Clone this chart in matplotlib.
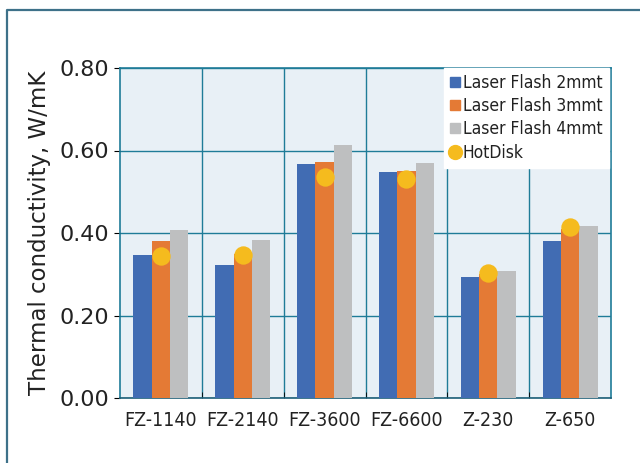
import numpy as np
import matplotlib
matplotlib.use('Agg')
import matplotlib.pyplot as plt
from matplotlib.lines import Line2D

materials = ['FZ-1140', 'FZ-2140', 'FZ-3600', 'FZ-6600', 'Z-230', 'Z-650']
lf_2mm = [0.347, 0.322, 0.568, 0.549, 0.293, 0.381]
lf_3mm = [0.380, 0.350, 0.571, 0.551, 0.300, 0.410]
lf_4mm = [0.408, 0.384, 0.613, 0.569, 0.309, 0.418]
hotdisk = [0.345, 0.347, 0.536, 0.531, 0.304, 0.414]
yticks = [0.0, 0.2, 0.4, 0.6, 0.8]

c_blue = '#416cb3'
c_orange = '#e47a35'
c_gray = '#bebfc0'
c_yellow = '#f5bb1e'
c_grid = '#1f7c98'
c_frame = '#3e7189'

plt.rcParams['font.family'] = ['DejaVu Sans']

fig = plt.figure(figsize=(6.4, 4.63), dpi=100)
ax = fig.add_axes([120/640, 1-398/463, 491/640, 330/463])
ax.set_facecolor('#e8f0f6')

x = np.arange(len(materials))
w = 0.224
ax.bar(x - w, lf_2mm, w, color=c_blue, zorder=3)
ax.bar(x, lf_3mm, w, color=c_orange, zorder=3)
ax.bar(x + w, lf_4mm, w, color=c_gray, zorder=3)
ax.scatter(x, hotdisk, s=175, color=c_yellow, zorder=4, linewidths=0)

ax.set_xlim(-0.5, len(materials) - 0.5)
ax.set_ylim(0, 0.8)
ax.set_yticks(yticks)
ax.set_yticklabels(['%.2f' % v for v in yticks], fontsize=16)
ax.set_xticks(x)
ax.set_xticklabels(materials, fontsize=14, fontstretch='condensed')
ax.set_xticks(np.arange(0.5, len(materials) - 0.5, 1), minor=True)
ax.tick_params(axis='x', which='major', length=0, pad=9, colors='#222222')
ax.tick_params(axis='x', which='minor', length=4, color='black', direction='in')
ax.tick_params(axis='y', length=4, color='black', colors='#222222', pad=4)
ax.grid(axis='y', which='major', color=c_grid, lw=1.0, zorder=1)
ax.grid(axis='x', which='minor', color=c_grid, lw=1.0, zorder=1)
for s in ax.spines.values():
    s.set_color(c_grid)
    s.set_linewidth(1.2)
ax.spines['bottom'].set_color('#1d5f78')

ax.set_ylabel('Thermal conductivity, W/mK', fontsize=16.5,
              color='#222222', labelpad=6)

handles = [
    Line2D([], [], ls='', marker='s', ms=7, color=c_blue, label='Laser Flash 2mmt'),
    Line2D([], [], ls='', marker='s', ms=7, color=c_orange, label='Laser Flash 3mmt'),
    Line2D([], [], ls='', marker='s', ms=7, color=c_gray, label='Laser Flash 4mmt'),
    Line2D([], [], ls='', marker='o', ms=10, color=c_yellow, label='HotDisk'),
]
leg = ax.legend(handles=handles, loc='upper right', bbox_to_anchor=(0.995, 1.0),
                frameon=True, fancybox=False, framealpha=1,
                edgecolor='white', borderaxespad=0, handlelength=0.6,
                handletextpad=0.15, labelspacing=0.3, borderpad=0.35,
                prop={'family': 'DejaVu Sans', 'size': 12.5, 'stretch': 'condensed'})
leg.set_zorder(5)
for t in leg.get_texts():
    t.set_color('#222222')

# outer frame
fy = 1 - 10/463
fx = 7/640
fig.add_artist(Line2D([fx, fx, 1], [0, fy, fy], color=c_frame, lw=1.6,
                      transform=fig.transFigure))

fig.savefig('out.png', dpi=100)
